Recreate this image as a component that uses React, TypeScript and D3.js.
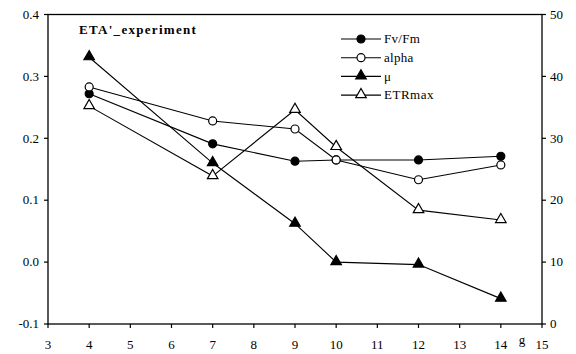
import React, {useEffect, useRef} from 'react';
import * as d3 from 'd3';

const days = [4, 7, 9, 10, 12, 14];
const fvfm = [0.272, 0.191, 0.163, 0.165, 0.165, 0.171];
const alpha = [0.283, 0.228, 0.215, 0.165, 0.133, 0.157];
const mu = [0.331, 0.160, 0.062, 0.0, -0.004, -0.059];
const etrmax = [35.2, 23.9, 34.6, 28.6, 18.4, 16.8];
const xTicks = d3.range(3, 16);
const leftTicks = [-0.1, 0.0, 0.1, 0.2, 0.3, 0.4];
const rightTicks = [0, 10, 20, 30, 40, 50];

const App: React.FC = () => {
    const svgRef = useRef<SVGSVGElement | null>(null);

    useEffect(() => {
        const svg = d3.select(svgRef.current);
        svg.selectAll('*').remove();

        const left = 48, right = 542, top = 14.5, bottom = 324;
        const font = "'Liberation Serif', 'DejaVu Serif', serif";

        const x = d3.scaleLinear().domain([3, 15]).range([left, right]);
        const yL = d3.scaleLinear().domain([-0.1, 0.4]).range([bottom, top]);
        const yR = d3.scaleLinear().domain([0, 50]).range([bottom, top]);

        const g = svg.append('g').style('font-family', font).style('font-size', '13px').attr('fill', '#000');

        // frame
        g.append('rect').attr('x', left).attr('y', top).attr('width', right - left).attr('height', bottom - top)
            .attr('fill', 'none').attr('stroke', '#000').attr('stroke-width', 1.3);

        // x axis
        xTicks.forEach(t => {
            g.append('line').attr('x1', x(t)).attr('x2', x(t)).attr('y1', bottom).attr('y2', bottom + 4)
                .attr('stroke', '#000').attr('stroke-width', 1.2);
            g.append('text').attr('x', x(t)).attr('y', bottom + 25).attr('text-anchor', 'middle').text(t);
        });
        g.append('text').attr('x', 522).attr('y', 344).attr('text-anchor', 'middle').text('g');

        // left axis
        leftTicks.forEach(t => {
            g.append('line').attr('x1', left - 4).attr('x2', left).attr('y1', yL(t)).attr('y2', yL(t))
                .attr('stroke', '#000').attr('stroke-width', 1.2);
            g.append('text').attr('x', left - 9).attr('y', yL(t)).attr('dy', '0.33em').attr('text-anchor', 'end')
                .text(t.toFixed(1));
        });

        // right axis
        rightTicks.forEach(t => {
            g.append('line').attr('x1', right).attr('x2', right + 4).attr('y1', yR(t)).attr('y2', yR(t))
                .attr('stroke', '#000').attr('stroke-width', 1.2);
            g.append('text').attr('x', right + 8).attr('y', yR(t)).attr('dy', '0.33em').attr('text-anchor', 'start')
                .text(t);
        });

        g.append('text').attr('x', 79).attr('y', 34).attr('font-weight', 'bold').attr('letter-spacing', '1.3px')
            .text("ETA'_experiment");

        const tri = d3.symbol().type(d3.symbolTriangle).size(48);

        const series = [
            {name: 'Fv/Fm', vals: fvfm, y: yL, shape: 'circle', fill: '#000'},
            {name: 'alpha', vals: alpha, y: yL, shape: 'circle', fill: '#fff'},
            {name: 'μ', vals: mu, y: yL, shape: 'tri', fill: '#000'},
            {name: 'ETRmax', vals: etrmax, y: yR, shape: 'tri', fill: '#fff'},
        ];

        const drawMarker = (sel, s, cx, cy) => {
            if (s.shape === 'circle') {
                sel.append('circle').attr('cx', cx).attr('cy', cy).attr('r', 4)
                    .attr('fill', s.fill).attr('stroke', '#000').attr('stroke-width', 1.2);
            } else {
                sel.append('path').attr('d', tri).attr('transform', 'translate(' + cx + ',' + (cy - 0.5) + ')')
                    .attr('fill', s.fill).attr('stroke', '#000').attr('stroke-width', 1.2);
            }
        };

        series.forEach(s => {
            const line = d3.line<number>().x((d, i) => x(days[i])).y(d => s.y(d));
            g.append('path').attr('d', line(s.vals)).attr('fill', 'none').attr('stroke', '#000').attr('stroke-width', 1.1);
        });
        series.forEach(s => {
            s.vals.forEach((v, i) => drawMarker(g, s, x(days[i]), s.y(v)));
        });

        // legend
        series.forEach((s, i) => {
            const ly = 39 + i * 18.7;
            g.append('line').attr('x1', 341).attr('x2', 381).attr('y1', ly).attr('y2', ly)
                .attr('stroke', '#000').attr('stroke-width', 1.1);
            drawMarker(g, s, 361, ly);
            g.append('text').attr('x', 384).attr('y', ly).attr('dy', '0.33em')
                .attr('letter-spacing', s.name === 'ETRmax' ? '0.5px' : '0.3px').text(s.name);
        });
    }, []);

    return (
        <svg ref={svgRef} width={576} height={354} style={{position: 'absolute', left: 0, top: 0}}/>
    );
};

export default App;
